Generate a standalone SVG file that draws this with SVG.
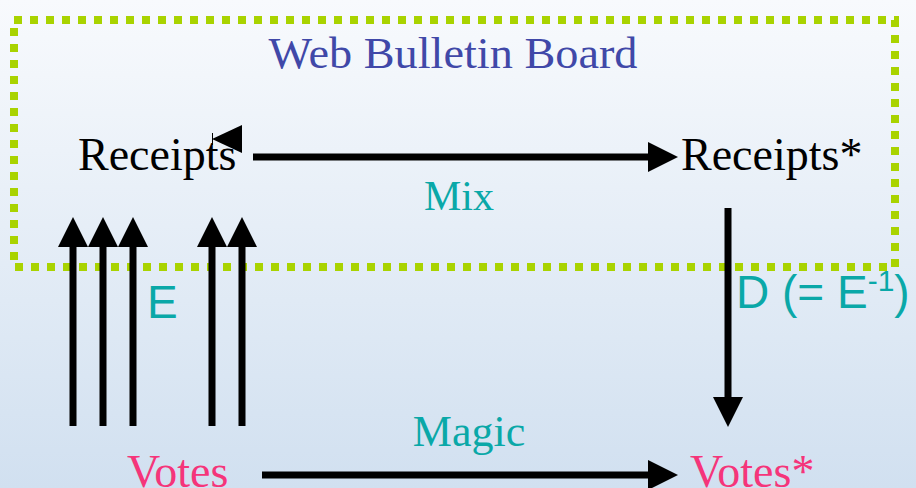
<svg xmlns="http://www.w3.org/2000/svg" width="916" height="488" viewBox="0 0 916 488">
<defs>
<linearGradient id="bg" x1="0" y1="0" x2="0" y2="1">
<stop offset="0" stop-color="#f8fafd"/>
<stop offset="1" stop-color="#d1e0f0"/>
</linearGradient>
<marker id="ah" viewBox="0 0 30 30" refX="0" refY="15" markerWidth="30" markerHeight="30" markerUnits="userSpaceOnUse" orient="auto">
<path d="M0,0 L30,15 L0,30 Z" fill="#000"/>
</marker>
</defs>
<style>
.serif{font-family:"Liberation Serif","Times New Roman",serif;}
.sans{font-family:"Liberation Sans",Arial,sans-serif;}
.conn{stroke:#000;stroke-width:7;fill:none;}
.teal{fill:#0aa8a8;}
.pink{fill:#f5357a;}
</style>
<rect width="916" height="488" fill="url(#bg)"/>
<rect id="board" x="14" y="20" width="881" height="247" fill="none" stroke="#a9d300" stroke-width="8" stroke-dasharray="8 8"/>
<g id="title"><text class="serif" x="453" y="68" font-size="45" fill="#4048a8" text-anchor="middle" textLength="369" lengthAdjust="spacingAndGlyphs">Web Bulletin Board</text></g>
<g id="receipts"><text class="serif" x="78" y="170" font-size="46" fill="#000">Receipts</text></g>
<g id="receipts-star"><text class="serif" x="681" y="170" font-size="46" fill="#000">Receipts*</text></g>
<g id="votes"><text class="serif pink" x="127" y="487" font-size="46">Votes</text></g>
<g id="votes-star"><text class="serif pink" x="690" y="487" font-size="46">Votes*</text></g>
<g id="connectors">
<line class="conn" x1="253" y1="157" x2="648" y2="157" marker-end="url(#ah)"/>
<polygon points="212,139 242,125 242,153" fill="#000"/>
<line x1="212.5" y1="133" x2="212.5" y2="145" stroke="#000" stroke-width="1"/>
<line class="conn" x1="73" y1="426" x2="73" y2="247" marker-end="url(#ah)"/>
<line class="conn" x1="103" y1="426" x2="103" y2="247" marker-end="url(#ah)"/>
<line class="conn" x1="133" y1="426" x2="133" y2="247" marker-end="url(#ah)"/>
<line class="conn" x1="212" y1="426" x2="212" y2="247" marker-end="url(#ah)"/>
<line class="conn" x1="242" y1="426" x2="242" y2="247" marker-end="url(#ah)"/>
<line class="conn" x1="728" y1="208" x2="728" y2="397" marker-end="url(#ah)"/>
<line class="conn" x1="262" y1="475" x2="648" y2="475" marker-end="url(#ah)"/>
</g>
<g id="labels">
<text class="serif teal" x="459" y="210" font-size="42" text-anchor="middle">Mix</text>
<text class="serif teal" x="469" y="446" font-size="44" text-anchor="middle">Magic</text>
<text class="sans teal" x="147" y="318" font-size="46">E</text>
<text class="sans teal" x="736" y="308" font-size="46">D (= E<tspan font-size="30" dy="-17">-1</tspan><tspan dy="17">)</tspan></text>
</g>
</svg>
